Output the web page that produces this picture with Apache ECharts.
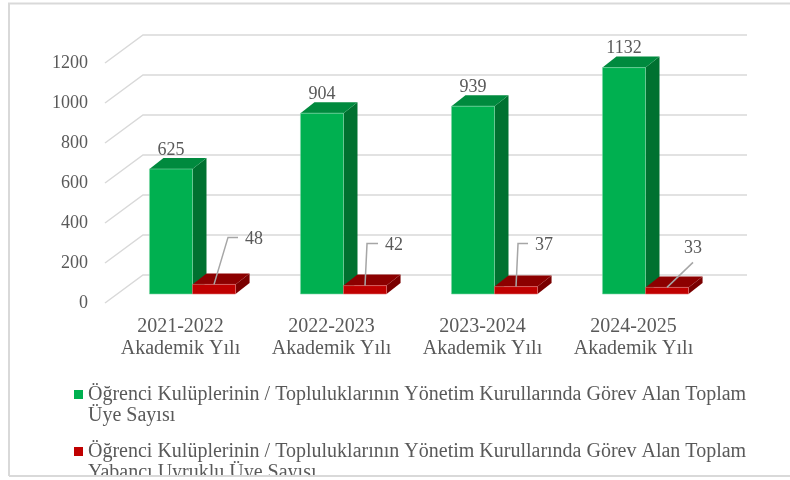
<!DOCTYPE html>
<html>
<head>
<meta charset="utf-8">
<script src="https://cdn.jsdelivr.net/npm/echarts@6/dist/echarts.min.js"></script>
<style>
  html, body { margin: 0; padding: 0; background: #fff; }
  #chart { width: 790px; height: 480px; }
</style>
</head>
<body>
<div id="chart"></div>
<script>
const years = ['2021-2022', '2022-2023', '2023-2024', '2024-2025'];
const yearSuffix = 'Akademik Yılı';
const seriesNames = [
    'Öğrenci Kulüplerinin / Topluluklarının Yönetim Kurullarında Görev Alan Toplam Üye Sayısı',
    'Öğrenci Kulüplerinin / Topluluklarının Yönetim Kurullarında Görev Alan Toplam Yabancı Uyruklu Üye Sayısı'
];
const memberCounts = [625, 904, 939, 1132];
const foreignCounts = [48, 42, 37, 33];
const yTicks = [0, 200, 400, 600, 800, 1000, 1200];

const FONT = 'Liberation Serif, Times New Roman, serif';
const TEXT = '#595959';
const GRID_LINE = '#d9d9d9';

// leader lines of the small red labels (offset from the bar top)
const leaderLayout = [
    { bend: [14, -47], run: 10 },
    { bend: [2, -42], run: 11 },
    { bend: [2, -43], run: 10 },
    { bend: [26, -25], run: 0 }
];

const greenFaces = { front: '#00b050', side: '#007130', top: '#008a3e', stroke: '#7fd7a7' };
const redFaces = { front: '#c00000', side: '#7a0000', top: '#8c0000', stroke: '#e07070' };

function barItem(faces, side, withLeader) {
    return function (params, api) {
        const idx = api.value(0);
        const v = api.value(1);
        const base = api.coord([idx, 0]);
        const top = api.coord([idx, v]);
        const band = api.size([1, 0])[0];
        const w = band * 0.285;
        const x0 = base[0] + side * w;
        const x1 = x0 + w;
        const yb = base[1], yt = top[1];
        const dx = 14, dy = -11;
        const children = [
            { type: 'polygon', shape: { points: [[x1, yb], [x1 + dx, yb + dy], [x1 + dx, yt + dy], [x1, yt]] },
              style: { fill: faces.side } },
            { type: 'polygon', shape: { points: [[x0, yt], [x1, yt], [x1 + dx, yt + dy], [x0 + dx, yt + dy]] },
              style: { fill: faces.top } },
            { type: 'rect', shape: { x: x0, y: yt, width: w, height: yb - yt },
              style: { fill: faces.front, stroke: faces.stroke, lineWidth: 0.6 } }
        ];
        const cx = x0 + w / 2;
        const textStyle = { fontFamily: FONT, fontSize: 18, fill: TEXT, verticalAlign: 'middle' };
        if (!withLeader) {
            children.push({ type: 'text', style: Object.assign({ text: String(v), x: cx, y: yt - 19, align: 'center' }, textStyle) });
        } else {
            const lay = leaderLayout[params.dataIndex];
            const bx = cx + lay.bend[0], by = yt + lay.bend[1];
            children.push({ type: 'polyline',
                shape: { points: [[cx, yt], [bx, by], [bx + lay.run, by]] },
                style: { stroke: '#a6a6a6', lineWidth: 1.5, fill: null } });
            if (lay.run > 0) {
                children.push({ type: 'text', style: Object.assign({ text: String(v), x: bx + lay.run + 7, y: by + 2, align: 'left' }, textStyle) });
            } else {
                children.push({ type: 'text', style: Object.assign({ text: String(v), x: bx, y: by - 14, align: 'center' }, textStyle) });
            }
        }
        return { type: 'group', children: children };
    };
}

function gridLineItem(params, api) {
    const cs = params.coordSys;
    const y = api.coord([0, api.value(1)])[1];
    const left = cs.x, right = cs.x + cs.width;
    return {
        type: 'polyline',
        shape: { points: [[left - 12, y + 9], [left + 26, y - 19], [right + 26, y - 19]] },
        style: { stroke: GRID_LINE, lineWidth: 1.5, fill: null }
    };
}

// blank first line keeps the marker level with the first text line
function legendFormatter(n) {
    return '\u00a0\n' + n.replace(' Toplam ', ' Toplam\n');
}

const chart = echarts.init(document.getElementById('chart'));
const legendText = { fontFamily: FONT, fontSize: 20, color: TEXT, lineHeight: 21 };
const option = {
    animation: false,
    grid: [
        // bar front plane
        { left: 117, right: 69, top: 54, bottom: 186 },
        // front plane of the 3D box (axis labels)
        { left: 105, right: 81, top: 63, bottom: 177 }
    ],
    xAxis: [
        { type: 'category', gridIndex: 0, data: years, show: false },
        { type: 'category', gridIndex: 1, data: years,
          axisLine: { show: false }, axisTick: { show: false },
          axisLabel: { interval: 0, hideOverlap: false, margin: 13, fontFamily: FONT, fontSize: 20,
                       color: TEXT, lineHeight: 22,
                       formatter: function (v) { return v + '\n' + yearSuffix; } } }
    ],
    yAxis: [
        { type: 'value', gridIndex: 0, min: 0, max: 1200, interval: 200, show: false },
        { type: 'value', gridIndex: 1, min: 0, max: 1200, interval: 200,
          axisLine: { show: false }, axisTick: { show: false }, splitLine: { show: false },
          axisLabel: { margin: 17, fontFamily: FONT, fontSize: 18, color: TEXT,
                       formatter: function (v) { return String(v); } } }
    ],
    legend: [
        { data: [seriesNames[0]], left: 74, top: 363, padding: 0, itemWidth: 9, itemHeight: 9,
          icon: 'rect', textStyle: legendText, formatter: legendFormatter },
        { data: [seriesNames[1]], left: 74, top: 420, padding: 0, itemWidth: 9, itemHeight: 9,
          icon: 'rect', textStyle: legendText, formatter: legendFormatter }
    ],
    series: [
        { type: 'custom', name: 'grid', xAxisIndex: 0, yAxisIndex: 0, silent: true, z: 1,
          renderItem: gridLineItem, data: yTicks.map(function (v) { return [0, v]; }) },
        { type: 'custom', name: seriesNames[0], xAxisIndex: 0, yAxisIndex: 0, z: 2,
          itemStyle: { color: greenFaces.front },
          renderItem: barItem(greenFaces, -1, false),
          data: memberCounts.map(function (v, i) { return [i, v]; }) },
        { type: 'custom', name: seriesNames[1], xAxisIndex: 0, yAxisIndex: 0, z: 3,
          itemStyle: { color: redFaces.front },
          renderItem: barItem(redFaces, 0, true),
          data: foreignCounts.map(function (v, i) { return [i, v]; }) }
    ],
    graphic: [
        { type: 'rect', z: 100, shape: { x: 0, y: 476, width: 790, height: 4 }, style: { fill: '#fff' } },
        { type: 'polyline', z: 101, shape: { points: [[9, 476], [9, 3.5], [790, 3.5]] },
          style: { stroke: GRID_LINE, lineWidth: 2, fill: null } },
        { type: 'line', z: 101, shape: { x1: 9, y1: 476, x2: 790, y2: 476 },
          style: { stroke: GRID_LINE, lineWidth: 2 } }
    ]
};
chart.setOption(option);
</script>
</body>
</html>
